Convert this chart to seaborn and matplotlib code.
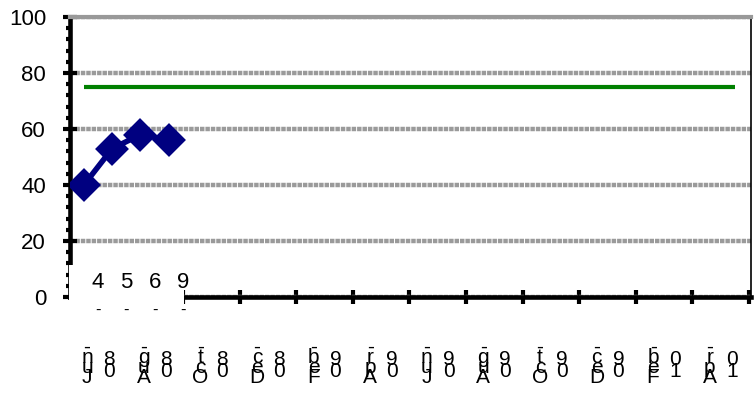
import matplotlib
matplotlib.use("Agg")
import matplotlib.pyplot as plt
import pandas as pd
import seaborn as sns
from matplotlib.patches import Rectangle
from matplotlib.ticker import MultipleLocator, FixedLocator
from matplotlib.transforms import offset_copy

# Monthly scores and the target level
score_months = ["2008-06", "2008-07", "2008-08", "2008-09"]
score_values = [40, 53, 58, 56]
target_months = ["2008-06", "2010-05"]
target_values = [75, 75]

# Category labels along the date axis (every second month)
label_months = ["2008-06", "2008-08", "2008-10", "2008-12", "2009-02", "2009-04",
                "2009-06", "2009-08", "2009-10", "2009-12", "2010-02", "2010-04"]
label_texts = ["Jun-08", "Aug-08", "Oct-08", "Dec-08", "Feb-09", "Apr-09",
               "Jun-09", "Aug-09", "Oct-09", "Dec-09", "Feb-10", "Apr-10"]
box_texts = ["4", "5", "6", "9"]
y_ticks = [0, 20, 40, 60, 80, 100]

start = pd.Period("2008-06", freq="M")


def month_index(seq):
    return [(pd.Period(s, freq="M") - start).n for s in seq]


sns.set_theme(style="white")
plt.rcParams["font.family"] = ["Liberation Sans", "DejaVu Sans"]
plt.rcParams["lines.scale_dashes"] = False
plt.rcParams["text.color"] = "black"
plt.rcParams["xtick.labelcolor"] = "black"
plt.rcParams["ytick.labelcolor"] = "black"
narrow = ["Liberation Sans Narrow", "Liberation Sans"]

W, H = 754, 394
fig = plt.figure(figsize=(W / 100, H / 100), dpi=100)
fig.patch.set_facecolor("white")
ax = fig.add_axes([70 / W, (H - 297) / H, (751 - 70) / W, (297 - 17) / H])
ax.set_facecolor("white")

score_df = pd.DataFrame({"month": month_index(score_months), "value": score_values})
target_df = pd.DataFrame({"month": month_index(target_months), "value": target_values})

sns.lineplot(data=target_df, x="month", y="value", ax=ax, color="#008000",
             linewidth=3, solid_capstyle="butt", zorder=4)
sns.lineplot(data=score_df, x="month", y="value", ax=ax, color="#000080",
             linewidth=4, marker="D", markersize=14, markeredgecolor="#000080",
             markeredgewidth=3, zorder=5)
score_line = ax.lines[-1]
score_line.set_solid_joinstyle("round")

ax.set_xlim(-0.49, 23.57)
ax.set_ylim(0, 100)
ax.set_xlabel("")
ax.set_ylabel("")

# Horizontal grid
ax.set_yticks(y_ticks)
ax.set_yticklabels([str(v) for v in y_ticks], fontsize=16, color="black")
ax.yaxis.set_minor_locator(MultipleLocator(4))
ax.yaxis.grid(True, which="major", color="#9a9a9a", linewidth=3.2,
              linestyle=(0, (3.2, 0.7)), zorder=1)
ax.set_axisbelow(True)

ax.tick_params(axis="y", which="major", direction="inout", length=9.5, width=3,
               color="black", pad=12.5, left=True)
ax.tick_params(axis="y", which="minor", direction="out", length=3, width=3,
               color="black", left=True)

# Date axis: ticks between the two-month categories
tick_pos = [m + 1.5 for m in month_index(label_months)]
ax.xaxis.set_major_locator(FixedLocator(tick_pos))
ax.set_xticklabels([])
ax.tick_params(axis="x", which="major", direction="inout", length=10, width=3,
               color="black", bottom=True)

for side in ["left", "bottom"]:
    ax.spines[side].set_color("black")
    ax.spines[side].set_linewidth(3.3)
ax.spines["right"].set_color("black")
ax.spines["right"].set_linewidth(1.2)
ax.spines["top"].set_color("#999999")
ax.spines["top"].set_linewidth(3)

# Stacked category labels
xtr = ax.get_xaxis_transform()
for m, txt in zip(month_index(label_months), label_texts):
    head, tail = txt[:4], txt[4:]
    ax.text(m + 0.5, 0, "\n".join(reversed(head)), fontsize=15, family=narrow,
            color="black", ha="center", va="top", linespacing=0.4,
            transform=offset_copy(xtr, fig=fig, x=-11, y=-41, units="dots"))
    ax.text(m + 0.5, 0, "\n".join(reversed(tail)), fontsize=15, family=narrow,
            color="black", ha="center", va="top", linespacing=0.55,
            transform=offset_copy(xtr, fig=fig, x=11, y=-53, units="dots"))

# Inset label box at the start of the axis
box = Rectangle((-0.53, -2.5), 0.53 + 3.55, 13.9, facecolor="white",
                edgecolor="none", zorder=3, clip_on=False)
ax.add_patch(box)
for m, t in zip(month_index(score_months), box_texts):
    ax.text(m + 0.5, 5, t, fontsize=16, family=narrow, color="black",
            ha="center", va="center", zorder=4, clip_on=False)
    ax.text(m + 0.5, -4.6, "-", fontsize=12, color="black", ha="center",
            va="center", zorder=4, clip_on=False)

fig.savefig("out.png", dpi=100, facecolor="white")
